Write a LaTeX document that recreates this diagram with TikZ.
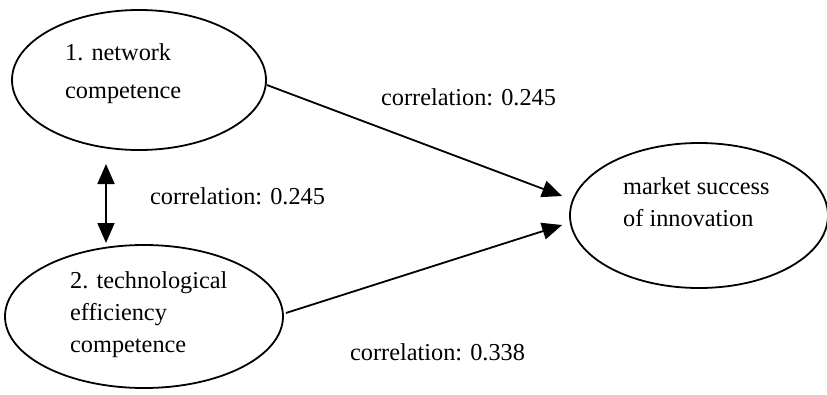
\documentclass[tikz,border=0pt]{standalone}
\usepackage{fontspec}
\setmainfont{Liberation Serif}
\usetikzlibrary{shapes.geometric,arrows.meta,calc}
\begin{document}
\begin{tikzpicture}[x=1pt,y=-1pt,
  oval/.style={draw=black, line width=1.8pt, ellipse, inner sep=0pt},
  txt/.style={anchor=base west, inner sep=0pt, font=\fontsize{24.3}{29}\selectfont},
  conn/.style={line width=1.8pt, -{Triangle[length=20pt,width=17pt]}},
  bothconn/.style={line width=1.8pt, {Triangle[length=20pt,width=17pt]}-{Triangle[length=20pt,width=17pt]}}]
\path[use as bounding box, fill=white] (0,0) rectangle (827,394);
% ellipses
\node[oval, minimum width=254pt, minimum height=140pt] (e1) at (139,80) {};
\node[oval, minimum width=278pt, minimum height=143pt] (e2) at (144,316.5) {};
\node[oval, minimum width=258pt, minimum height=145pt] (e3) at (699,215.5) {};
% texts inside
\node[txt] (t1a) at (65,60.5) {1. network};
\node[txt] (t1b) at (65,98) {competence};
\node[txt] (t2a) at (70,288) {2. technological};
\node[txt] (t2b) at (70,320) {efficiency};
\node[txt] (t2c) at (70,352) {competence};
\node[txt] (t3a) at (623,194) {market success};
\node[txt] (t3b) at (623,226) {of innovation};
% labels
\node[txt] (l1) at (381,105) {correlation: 0.245};
\node[txt] (l2) at (150,204) {correlation: 0.245};
\node[txt] (l3) at (350,360) {correlation: 0.338};
% connectors
\coordinate (a1) at (106,164);
\coordinate (a2) at (106,243);
\draw[bothconn] (a1) -- (a2);
\draw[conn] (e1.east) ++(0,5) -- ($(e3.west)+(-7,-19.5)$);
\draw[conn] (e2.east) ++(2,-3.5) -- ($(e3.west)+(-7,9.5)$);
\end{tikzpicture}
\end{document}
